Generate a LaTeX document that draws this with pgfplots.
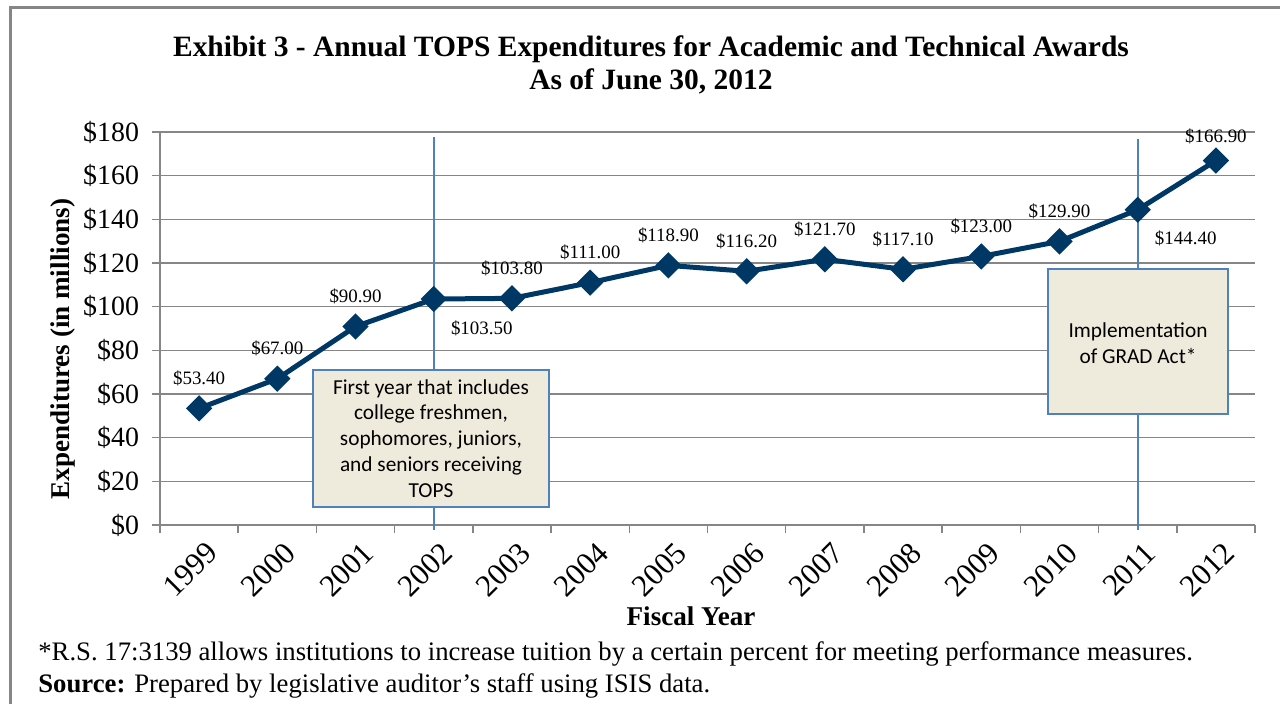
\documentclass[border=0pt]{standalone}
\usepackage{fontspec}
\setmainfont{Liberation Serif}
\newfontfamily\calibri{Carlito}
\usepackage{pgfplots}
\pgfplotsset{compat=1.18}
\definecolor{navy}{HTML}{003865}
\definecolor{refblue}{HTML}{4F81BD}
\definecolor{boxfill}{HTML}{EEEADC}
\definecolor{axgray}{HTML}{868686}

\begin{document}
\begin{tikzpicture}[x=0.5bp,y=0.5bp]
\useasboundingbox (0,0) rectangle (1280,704);
% outer frame (left and top only)
\draw[axgray, line width=1.5bp] (10,0) -- (10,696) -- (1280,696);

% title
\node[anchor=base, font=\bfseries\fontsize{14.8}{17}\selectfont] at (651,647)
  {Exhibit 3 - Annual TOPS Expenditures for Academic and Technical Awards};
\node[anchor=base, font=\bfseries\fontsize{14.8}{17}\selectfont] at (651,614)
  {As of June 30, 2012};

\begin{axis}[
    at={(80bp,89.5bp)}, anchor=south west,
    scale only axis,
    width=547.5bp, height=196.5bp,
    xmin=-0.5, xmax=13.5,
    ymin=0, ymax=180,
    axis x line*=bottom, axis y line*=left,
    axis line style={axgray, line width=0.75bp},
    xtick={-0.5,0.5,...,13.5},
    xticklabels={},
    extra x ticks={0,...,13},
    extra x tick labels={1999,2000,2001,2002,2003,2004,2005,2006,2007,2008,2009,2010,2011,2012},
    extra x tick style={major tick length=0pt},
    xticklabel style={rotate=45, anchor=north east, font=\fontsize{15.5}{17}\selectfont, yshift=-4bp},
    ytick={0,20,...,180},
    yticklabel={\$\pgfmathprintnumber{\tick}},
    yticklabel style={font=\fontsize{14}{16}\selectfont, xshift=-3bp},
    /pgf/number format/assume math mode=true,
    tick align=outside,
    major tick length=4bp,
    tick style={axgray, line width=0.75bp},
    ymajorgrids,
    grid style={axgray, line width=0.75bp},
    clip=false,
]
% reference lines
\draw[refblue, line width=1bp] (axis cs:3,177.7) -- (axis cs:3,-2.3);
\draw[refblue, line width=1bp] (axis cs:12,176.8) -- (axis cs:12,-2.3);
% expenditures
\addplot[navy, line width=2.5bp, mark=square*, mark size=3.4bp,
    mark options={rotate=45, solid, fill=navy}] coordinates {
    (0,53.4) (1,67.0) (2,90.9) (3,103.5) (4,103.8) (5,111.0) (6,118.9)
    (7,116.2) (8,121.7) (9,117.1) (10,123.0) (11,129.9) (12,144.4) (13,166.9)
};
% data labels above points
\addplot[draw=none, mark=none, point meta=y,
    nodes near coords={\$\pgfmathprintnumber[fixed,fixed zerofill,precision=2]{\pgfplotspointmeta}},
    every node near coord/.append style={anchor=center, yshift=15bp,
        font=\fontsize{9.5}{11}\selectfont}] coordinates {
    (0,53.4) (1,67.0) (2,90.9) (4,103.8) (5,111.0) (6,118.9)
    (7,116.2) (8,121.7) (9,117.1) (10,123.0) (11,129.9)
};
\addplot[draw=none, mark=none, point meta=y,
    nodes near coords={\$\pgfmathprintnumber[fixed,fixed zerofill,precision=2]{\pgfplotspointmeta}},
    every node near coord/.append style={anchor=center, yshift=12bp,
        font=\fontsize{9.5}{11}\selectfont}] coordinates {
    (13,166.9)
};
% data labels below right
\addplot[draw=none, mark=none, point meta=y,
    nodes near coords={\$\pgfmathprintnumber[fixed,fixed zerofill,precision=2]{\pgfplotspointmeta}},
    every node near coord/.append style={anchor=center, xshift=24bp, yshift=-14.5bp,
        font=\fontsize{9.5}{11}\selectfont}] coordinates {
    (3,103.5) (12,144.4)
};
\end{axis}

% annotation boxes
\filldraw[fill=boxfill, draw=refblue, line width=0.75bp] (313,197) rectangle (549,334);
\node[align=center, font=\calibri\fontsize{10.7}{13}\selectfont] at (431,265.5)
  {First year that includes\\college freshmen,\\sophomores, juniors,\\and seniors receiving\\TOPS};
\filldraw[fill=boxfill, draw=refblue, line width=0.75bp] (1048,290) rectangle (1228,435);
\node[align=center, font=\calibri\fontsize{10.7}{13}\selectfont] at (1138,361)
  {Implementation\\of GRAD Act*};

% axis titles
\node[rotate=90, font=\bfseries\fontsize{13.6}{15}\selectfont] at (63,355)
  {Expenditures (in millions)};
\node[anchor=base, font=\bfseries\fontsize{13.6}{15}\selectfont] at (691,79) {Fiscal Year};

% footnotes
\node[anchor=base west, inner sep=0pt, font=\fontsize{13.4}{15}\selectfont] at (38,44)
  {*R.S. 17:3139 allows institutions to increase tuition by a certain percent for meeting performance measures.};
\node[anchor=base west, inner sep=0pt, font=\fontsize{13.4}{15}\selectfont] at (38,12)
  {\textbf{Source:} Prepared by legislative auditor’s staff using ISIS data.};
\end{tikzpicture}
\end{document}
